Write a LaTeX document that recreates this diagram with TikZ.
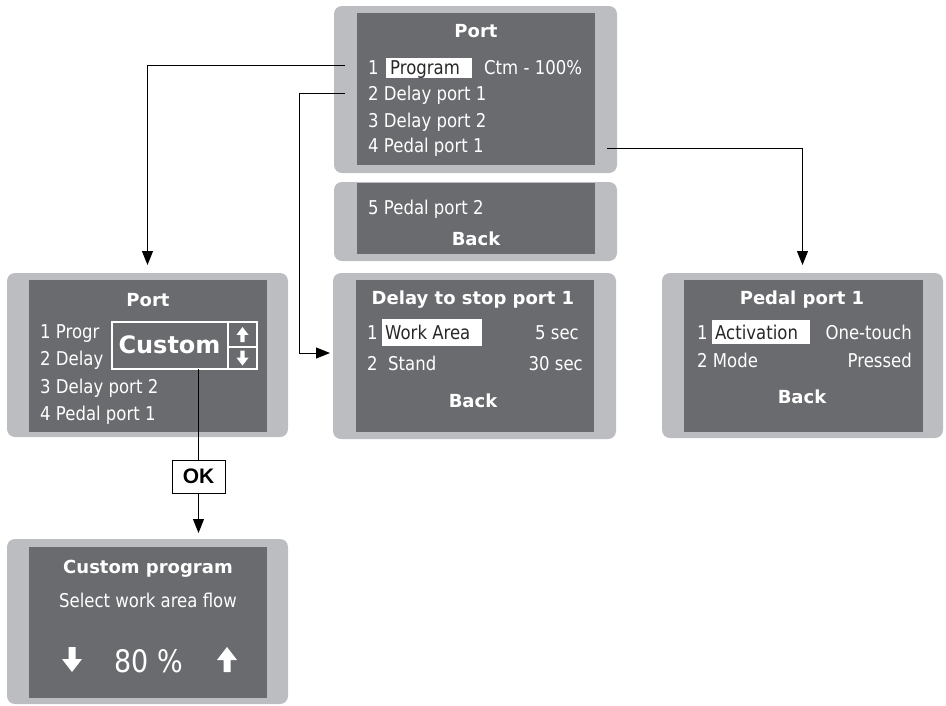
\documentclass[tikz,border=0pt]{standalone}
\usepackage{fontspec}
\newfontfamily\lcdfont{DejaVu Sans}[FakeStretch=0.87]
\newfontfamily\lcdbfont{DejaVu Sans}
\newfontfamily\okfont{Liberation Sans}
\usetikzlibrary{arrows.meta}
\definecolor{panelouter}{RGB}{188,189,192}
\definecolor{panelinner}{RGB}{106,107,111}
\definecolor{hltext}{RGB}{40,40,42}
\tikzset{
  outerpanel/.style={fill=panelouter, rounded corners=8pt, inner sep=0pt, outer sep=0pt},
  innerpanel/.style={fill=panelinner, inner sep=0pt, outer sep=0pt},
  txt/.style={text=white, inner sep=0pt, font=\lcdfont\fontsize{19}{21}\selectfont},
  txtd/.style={txt, text=hltext},
  ttl/.style={text=white, inner sep=0pt, font=\lcdbfont\bfseries\fontsize{18}{20}\selectfont},
  conn/.style={draw=black, line width=1pt, -{Triangle[length=14pt,width=11pt]}},
  plainline/.style={draw=black, line width=1pt},
  hlbox/.style={fill=white},
  lcdarrow/.pic={\fill[white] (0,-12.5) -- (10,0.5) -- (3.5,0.5) -- (3.5,12.5) -- (-3.5,12.5) -- (-3.5,0.5) -- (-10,0.5) -- cycle;}
}
\begin{document}
\begin{tikzpicture}[x=1pt,y=-1pt]
\useasboundingbox (0,0) rectangle (946,705);

% ---------- top Port panel ----------
\node[outerpanel, minimum width=283pt, minimum height=167pt] (topP) at (475.5,89.5) {};
\node[innerpanel, minimum width=238pt, minimum height=152pt] (topI) at (476,89) {};
\node[ttl, anchor=base] (tT) at (476,37) {Port};
\fill[hlbox] (386,58) rectangle (472,78);
\node[txt, anchor=base west] (t1a) at (368,74) {1};
\node[txtd, anchor=base west] (t1b) at (390,74) {Program};
\node[txt, anchor=base west] (t1c) at (484,74) {Ctm - 100\%};
\node[txt, anchor=base west] (t2) at (368,100) {2 Delay port 1};
\node[txt, anchor=base west] (t3) at (368,127) {3 Delay port 2};
\node[txt, anchor=base west] (t4) at (368,152) {4 Pedal port 1};

% ---------- scrolled part ----------
\node[outerpanel, minimum width=283pt, minimum height=79pt] (scrP) at (475.5,221.5) {};
\node[innerpanel, minimum width=238pt, minimum height=71pt] (scrI) at (476,218.5) {};
\node[txt, anchor=base west] (s5) at (368,214) {5 Pedal port 2};
\node[ttl, anchor=base] (sB) at (476,245) {Back};

% ---------- left Port panel ----------
\node[outerpanel, minimum width=281pt, minimum height=164pt] (leftP) at (147.5,355) {};
\node[innerpanel, minimum width=238pt, minimum height=152pt] (leftI) at (148,356) {};
\node[ttl, anchor=base] (lT) at (148,306) {Port};
\node[txt, anchor=base west] (l1) at (40,338) {1 Progr};
\node[txt, anchor=base west] (l2) at (40,365) {2 Delay};
\node[txt, anchor=base west] (l3) at (40,393) {3 Delay port 2};
\node[txt, anchor=base west] (l4) at (40,420) {4 Pedal port 1};
\node[fill=panelinner, draw=white, line width=1.2pt, inner sep=0pt, outer sep=0pt,
      minimum width=145pt, minimum height=47pt] (customB) at (184.5,345.5) {};
\draw[white, line width=1.2pt] (228,322) -- (228,369) (228,347) -- (257,347);
\node[ttl, anchor=base, font=\lcdbfont\bfseries\fontsize{24}{26}\selectfont] (cT) at (169.5,353) {Custom};
\pic[scale=0.6] at (242.5,334.5) {lcdarrow};
\pic[xscale=0.6, yscale=-0.6] at (242.5,358) {lcdarrow};

% ---------- Delay panel ----------
\node[outerpanel, minimum width=283pt, minimum height=166pt] (delayP) at (474.5,356) {};
\node[innerpanel, minimum width=238pt, minimum height=152pt] (delayI) at (475,356) {};
\node[ttl, anchor=base] (dT) at (473,304) {Delay to stop port 1};
\fill[hlbox] (382,319) rectangle (482,346);
\node[txt, anchor=base west] (d1a) at (367,339) {1};
\node[txtd, anchor=base west] (d1b) at (385,339) {Work Area};
\node[txt, anchor=base east] (d1c) at (579,339) {5 sec};
\node[txt, anchor=base west] (d2a) at (367,370) {2};
\node[txt, anchor=base west] (d2b) at (388,370) {Stand};
\node[txt, anchor=base east] (d2c) at (583,370) {30 sec};
\node[ttl, anchor=base] (dB) at (473,407) {Back};

% ---------- Pedal panel ----------
\node[outerpanel, minimum width=281pt, minimum height=165pt] (pedalP) at (802.5,355.5) {};
\node[innerpanel, minimum width=239pt, minimum height=152pt] (pedalI) at (803.5,356) {};
\node[ttl, anchor=base] (pT) at (802,304) {Pedal port 1};
\fill[hlbox] (712,320) rectangle (810,344);
\node[txt, anchor=base west] (p1a) at (697,339) {1};
\node[txtd, anchor=base west] (p1b) at (715,339) {Activation};
\node[txt, anchor=base east] (p1c) at (912,339) {One-touch};
\node[txt, anchor=base west] (p2a) at (697,367) {2 Mode};
\node[txt, anchor=base east] (p2c) at (912,367) {Pressed};
\node[ttl, anchor=base] (pB) at (802,403) {Back};

% ---------- Custom program panel ----------
\node[outerpanel, minimum width=281pt, minimum height=165pt] (cprogP) at (147.5,621.5) {};
\node[innerpanel, minimum width=238pt, minimum height=151pt] (cprogI) at (148,622.5) {};
\node[ttl, anchor=base] (cpT) at (148,573) {Custom program};
\node[txt, anchor=base] (cpS) at (148,607) {Select work area flow};
\pic[yscale=-1] at (72,659.5) {lcdarrow};
\pic at (227,659.5) {lcdarrow};
\node[txt, anchor=base, font=\lcdfont\fontsize{31}{33}\selectfont] (cpV) at (149,672) {80 \%};

% ---------- OK box ----------
\node[draw=black, line width=1pt, fill=white, inner sep=0pt, outer sep=0pt,
      minimum width=53pt, minimum height=33pt,
      font=\okfont\bfseries\fontsize{21}{23}\selectfont] (okB) at (198.5,476.5) {OK};

% ---------- connectors ----------
\coordinate (c1) at (345,65);
\coordinate (c2) at (345,93);
\coordinate (c3) at (607,148);
\draw[conn, shorten >=8pt] (c1) -| (leftP.north);
\draw[conn, shorten >=3pt] (c2) -- ++(-46,0) |- ([yshift=3pt]delayP.west);
\draw[conn, shorten >=8pt] (c3) -| (pedalP.north);
\draw[plainline] (okB.north |- customB.south) -- (okB.north);
\draw[conn, shorten >=6pt] (okB.south) -- (okB.south |- cprogP.north);
\end{tikzpicture}
\end{document}
